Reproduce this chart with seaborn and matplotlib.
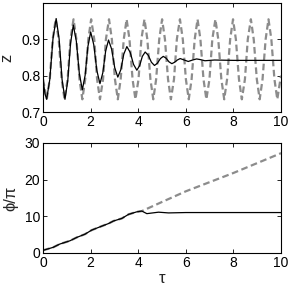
import numpy as np
import pandas as pd
import matplotlib
matplotlib.use("Agg")
import matplotlib.pyplot as plt
import seaborn as sns

# Set style
sns.set_theme(style="ticks")
plt.rcParams['font.family'] = ['Liberation Sans', 'DejaVu Sans']
plt.rcParams['font.size'] = 10
plt.rcParams['xtick.direction'] = 'in'
plt.rcParams['ytick.direction'] = 'in'
plt.rcParams['xtick.top'] = True
plt.rcParams['ytick.right'] = True

# --- top panel: z(tau) ---
tau_z_free = [0.00, 0.155, 0.28, 0.405, 0.53, 0.655, 0.78, 0.90, 1.03, 1.15,
              1.28, 1.40, 1.53, 1.65, 1.77, 1.90, 2.02, 2.15, 2.27, 2.39,
              2.52, 2.64, 2.77, 2.89, 3.02, 3.14, 3.26, 3.39, 3.51, 3.63,
              3.76, 3.88, 4.01, 4.13, 4.26, 4.38, 4.51, 4.63, 4.75, 4.88,
              5.00, 5.12, 5.25, 5.37, 5.50, 5.62, 5.75, 5.87, 6.00, 6.12,
              6.24, 6.37, 6.49, 6.61, 6.74, 6.86, 6.99, 7.11, 7.24, 7.36,
              7.49, 7.61, 7.73, 7.86, 7.98, 8.10, 8.23, 8.35, 8.48, 8.60,
              8.73, 8.85, 8.98, 9.10, 9.22, 9.35, 9.47, 9.59, 9.72, 9.84,
              9.97, 10.0]
z_free = [0.79, 0.735, 0.79, 0.90, 0.955, 0.90, 0.79, 0.735, 0.79, 0.90,
          0.955, 0.90, 0.79, 0.735, 0.79, 0.90, 0.955, 0.90, 0.79, 0.735,
          0.79, 0.90, 0.955, 0.90, 0.79, 0.735, 0.79, 0.90, 0.955, 0.90,
          0.79, 0.735, 0.79, 0.90, 0.955, 0.90, 0.79, 0.735, 0.79, 0.90,
          0.955, 0.90, 0.79, 0.735, 0.79, 0.90, 0.955, 0.90, 0.79, 0.735,
          0.79, 0.90, 0.955, 0.90, 0.79, 0.735, 0.79, 0.90, 0.955, 0.90,
          0.79, 0.735, 0.79, 0.90, 0.955, 0.90, 0.79, 0.735, 0.79, 0.90,
          0.955, 0.90, 0.79, 0.735, 0.79, 0.90, 0.955, 0.90, 0.79, 0.735,
          0.79, 0.80]

tau_z_ctrl = [0.00, 0.08, 0.15, 0.283, 0.417, 0.55, 0.673, 0.797, 0.92, 1.037,
              1.153, 1.27, 1.397, 1.523, 1.65, 1.767, 1.883, 2.00, 2.13, 2.26,
              2.39, 2.51, 2.63, 2.75, 2.88, 3.01, 3.14, 3.27, 3.39, 3.52,
              3.66, 3.80, 3.94, 4.06, 4.17, 4.29, 4.42, 4.55, 4.68, 4.80,
              4.93, 5.05, 5.17, 5.29, 5.41, 5.53, 5.64, 5.76, 5.93, 6.10,
              6.28, 6.45, 6.62, 6.80, 7.20, 8.00, 10.0]
z_ctrl = [0.79, 0.75, 0.735, 0.79, 0.902, 0.957, 0.902, 0.79, 0.735, 0.786,
          0.888, 0.939, 0.895, 0.806, 0.761, 0.801, 0.880, 0.920, 0.885, 0.814,
          0.778, 0.808, 0.868, 0.898, 0.873, 0.822, 0.796, 0.817, 0.859, 0.880,
          0.864, 0.831, 0.815, 0.828, 0.853, 0.865, 0.856, 0.837, 0.828, 0.834,
          0.847, 0.853, 0.848, 0.838, 0.833, 0.837, 0.843, 0.847, 0.843, 0.839,
          0.843, 0.846, 0.844, 0.841, 0.843, 0.842, 0.842]

# --- bottom panel: phi/pi(tau) ---
tau_phi_free = [0.00, 0.42, 0.70, 1.13, 1.41, 1.76, 2.04, 2.39, 2.75, 2.96,
                3.31, 3.59, 3.94, 4.15, 5.00, 6.00, 7.00, 8.00, 9.00, 10.0]
phi_free = [0.7, 1.5, 2.4, 3.3, 4.2, 5.1, 6.2, 7.1, 8.0, 8.7,
            9.4, 10.5, 11.2, 11.4, 13.9, 16.8, 19.3, 21.8, 24.5, 27.2]

tau_phi_ctrl = [0.00, 0.42, 0.70, 1.13, 1.41, 1.76, 2.04, 2.39, 2.75, 2.96,
                3.31, 3.59, 3.94, 4.15, 4.36, 4.85, 5.27, 6.00, 8.00, 10.0]
phi_ctrl = [0.7, 1.5, 2.4, 3.3, 4.2, 5.1, 6.2, 7.1, 8.0, 8.7,
            9.4, 10.5, 11.2, 11.4, 10.7, 11.1, 10.9, 11.0, 11.0, 11.0]

x_ticks = [0, 2, 4, 6, 8, 10]
z_ticks = [0.7, 0.8, 0.9]
phi_ticks = [0, 10, 20, 30]

dash_color = '#8c8c8c'
dash_style = (0, (3, 1.6))

fig = plt.figure(figsize=(2.91, 2.91), dpi=100)
ax1 = fig.add_axes([0.148, 0.615, 0.818, 0.375])
ax2 = fig.add_axes([0.148, 0.131, 0.818, 0.378])

# Top: z
sns.lineplot(x=tau_z_free, y=z_free, ax=ax1, sort=False, estimator=None,
             color=dash_color, linewidth=1.6, linestyle=dash_style)
sns.lineplot(x=tau_z_ctrl, y=z_ctrl, ax=ax1, sort=False, estimator=None,
             color='black', linewidth=0.9)
ax1.set_xlim(0, 10)
ax1.set_ylim(0.7, 1.0)
ax1.set_xticks(x_ticks)
ax1.set_yticks(z_ticks)
ax1.set_yticklabels([f"{v:.1f}" for v in z_ticks])
ax1.set_ylabel('z')
ax1.yaxis.set_label_coords(-0.12, 0.5)

# Bottom: phi/pi
sns.lineplot(x=tau_phi_free, y=phi_free, ax=ax2, sort=False, estimator=None,
             color=dash_color, linewidth=1.6, linestyle=dash_style)
sns.lineplot(x=tau_phi_ctrl, y=phi_ctrl, ax=ax2, sort=False, estimator=None,
             color='black', linewidth=0.9)
ax2.set_xlim(0, 10)
ax2.set_ylim(0, 30)
ax2.set_xticks(x_ticks)
ax2.set_yticks(phi_ticks)
ax2.set_xlabel('τ', labelpad=1)
ax2.set_ylabel('ϕ/π')
ax2.yaxis.set_label_coords(-0.105, 0.5)

for ax in (ax1, ax2):
    for s in ax.spines.values():
        s.set_linewidth(0.8)
        s.set_color('black')
    ax.tick_params(length=3, width=0.6, pad=2, colors='black', labelsize=10)

fig.savefig('out.png', dpi=100)
